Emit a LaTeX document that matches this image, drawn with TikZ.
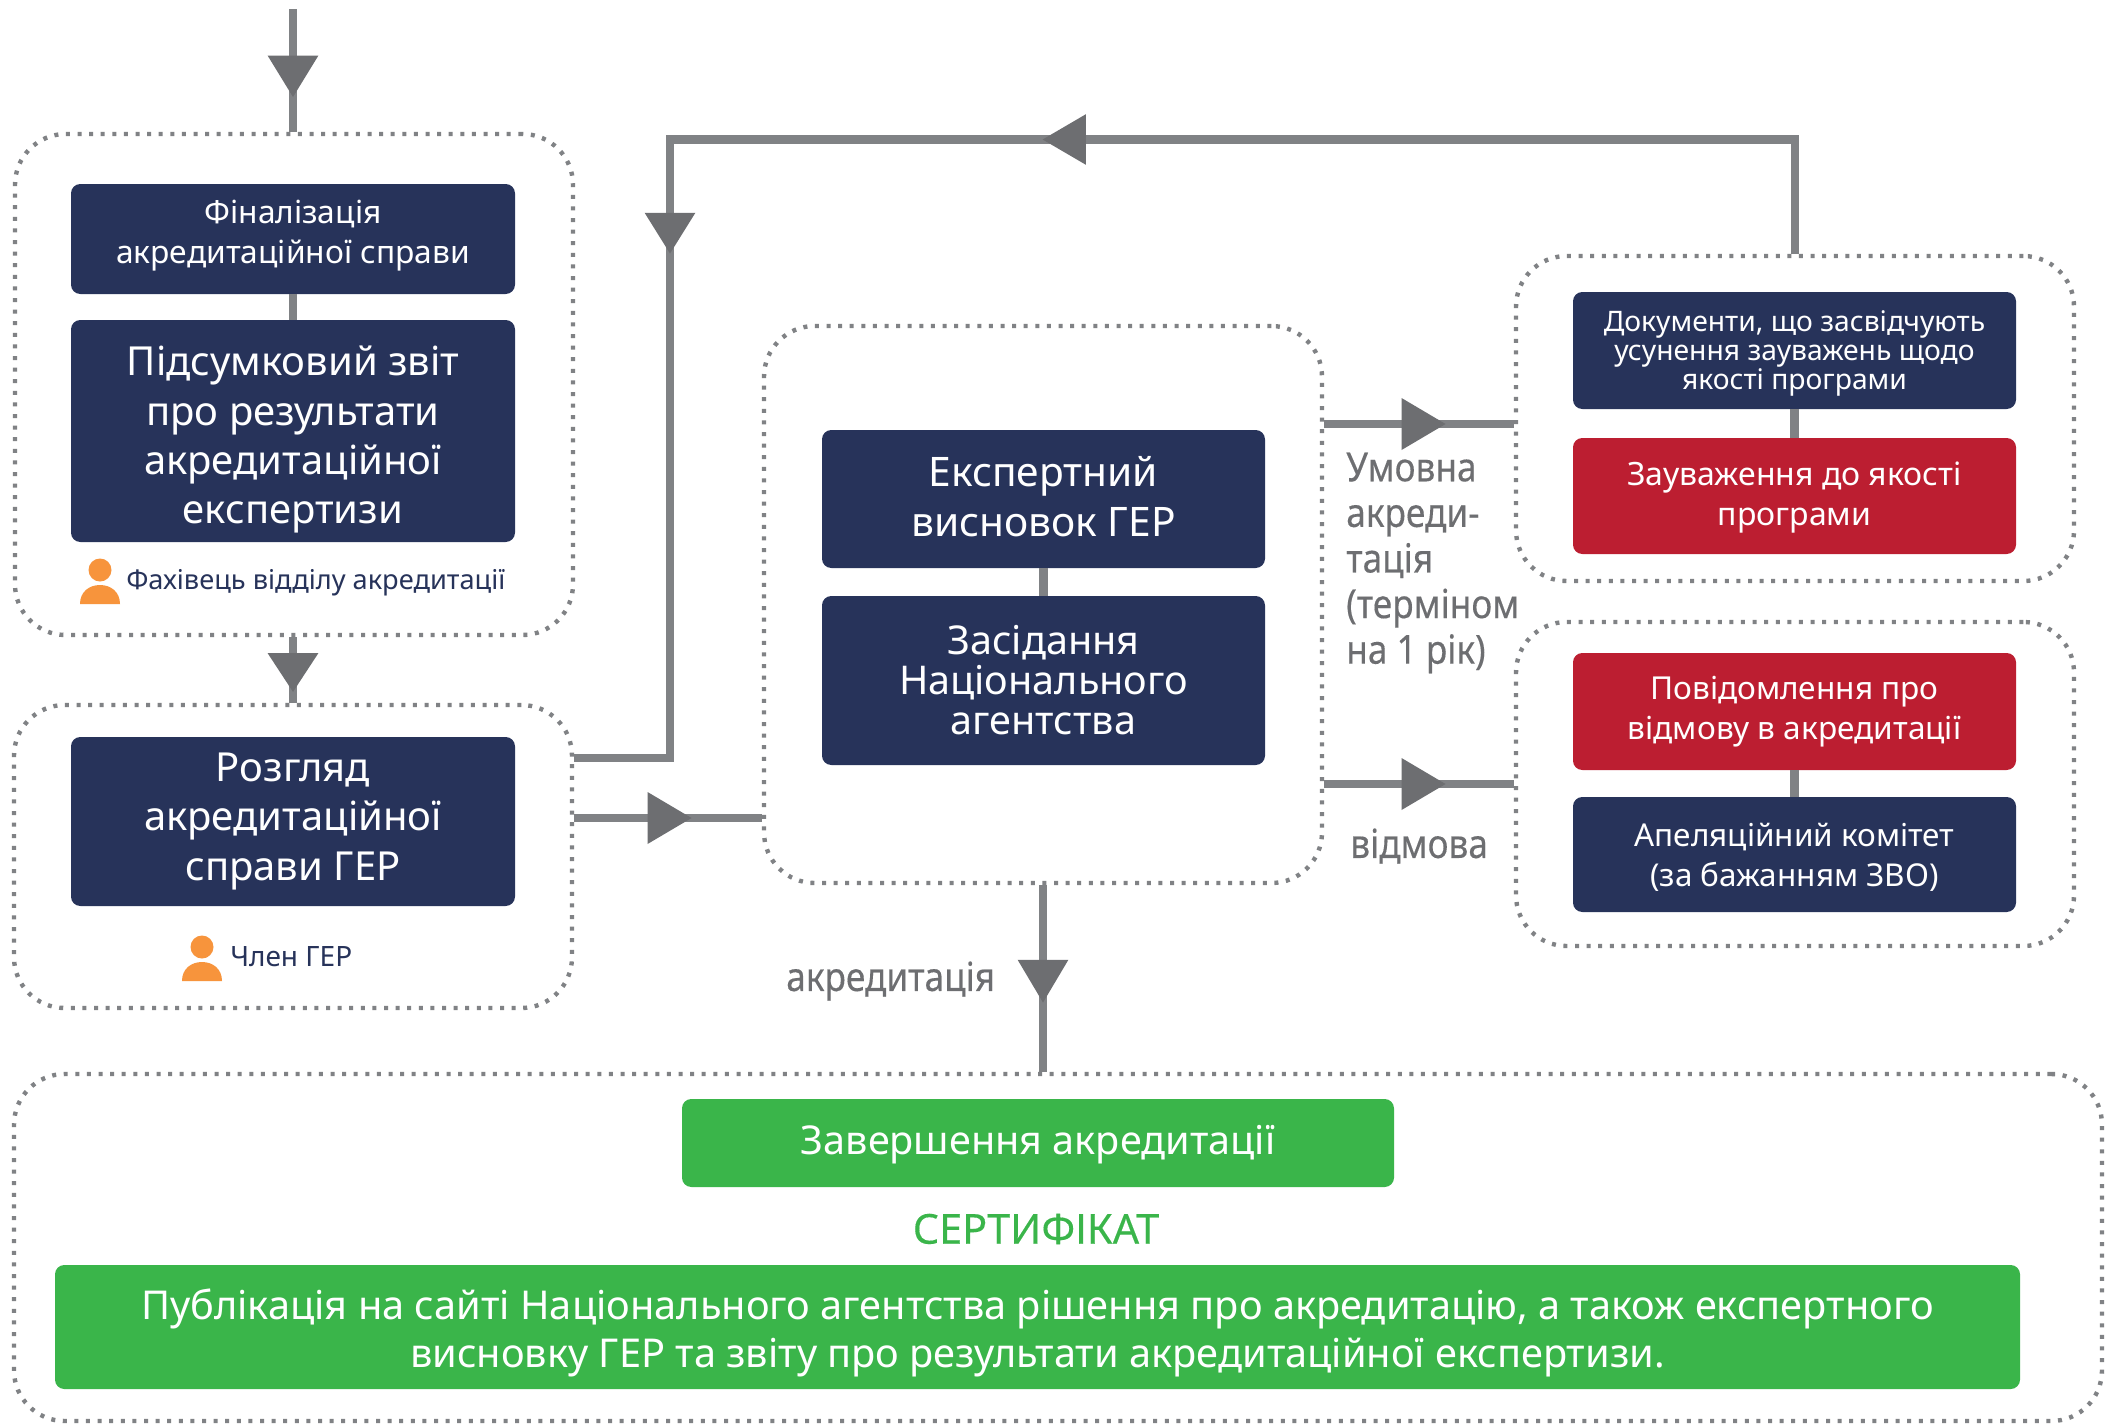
\documentclass[tikz,border=0pt]{standalone}
\usepackage{fontspec}
\usetikzlibrary{decorations.markings,calc}
\setmainfont{Noto Sans}
\newfontfamily\condfont[FakeStretch=0.88,FakeBold=0.25]{Noto Sans}
\newfontfamily\certfont[FakeBold=0.3]{Noto Sans}
\definecolor{navy}{HTML}{27335A}
\definecolor{redbox}{HTML}{BC1E31}
\definecolor{greenbox}{HTML}{3AB54A}
\definecolor{orangep}{HTML}{F7943C}
\definecolor{linegray}{HTML}{808285}
\definecolor{headgray}{HTML}{6D6E71}
\tikzset{
  x=0.75pt,y=-0.75pt,
  group/.style={draw=linegray,line width=3.3pt,dash pattern=on 3pt off 5.7pt,rounded corners=38pt,fill=white,inner sep=0pt},
  card/.style={rounded corners=7pt,inner sep=0pt,text=white,align=center},
  conn/.style={draw=linegray,line width=6.6pt},
  midhead/.style n args={3}{postaction={decorate,decoration={markings,mark=at position #1 with {\fill[headgray] (-#2,-#3)--(0pt,0pt)--(-#2,#3)--cycle;}}}},
  who/.style={text=navy,inner sep=0pt,anchor=west},
  lab/.style={text=headgray,inner sep=0pt,anchor=west,align=left},
}
\newcommand{\cornerbox}[7]{% name, style, x1,y1,x2,y2, text
  \pgfmathsetmacro{\bw}{(#5-#3)*0.75}\pgfmathsetmacro{\bh}{(#6-#4)*0.75}
  \node[#2,minimum width=\bw pt,minimum height=\bh pt] (#1) at ({(#3+#5)/2},{(#4+#6)/2}) {#7};}
\newcommand{\dn}[1]{\rule{0pt}{#1pt}}
\newcommand{\up}[1]{\rule[-#1pt]{0pt}{#1pt}}
\newcommand{\personicon}[2]{% cx, circle cy
  \fill[orangep] (#1,#2) circle[radius=11.5];
  \fill[orangep] ({#1-20},{#2+34}) .. controls ({#1-20},{#2+22}) and ({#1-11},{#2+15}) .. (#1,{#2+15})
     .. controls ({#1+11},{#2+15}) and ({#1+20},{#2+22}) .. ({#1+20},{#2+34}) -- cycle;}
\begin{document}
\begin{tikzpicture}
\useasboundingbox (0,0) rectangle (2105,1424);
\fill[white] (0,0) rectangle (2105,1424);
% groups
\cornerbox{gA}{group}{15}{134}{573}{635}{}
\cornerbox{gB}{group}{14}{705}{572}{1008}{}
\cornerbox{gC}{group}{764}{326}{1322}{883}{}
\cornerbox{gD}{group}{1516}{256}{2074}{581}{}
\cornerbox{gE}{group}{1516}{622}{2074}{946}{}
\cornerbox{gF}{group}{14}{1074}{2102}{1421}{}
% cards
\cornerbox{a1}{card,fill=navy,font=\fontsize{23.8}{30}\selectfont}{71}{184}{515}{294}{Фіналізація\\акредитаційної справи\up{10.5}}
\cornerbox{a2}{card,fill=navy,font=\fontsize{30}{36.8}\selectfont}{71}{320}{515}{542}{\dn{35}Підсумковий звіт\\про результати\\акредитаційної\\експертизи}
\cornerbox{b1}{card,fill=navy,font=\fontsize{30}{37.2}\selectfont}{71}{737}{515}{906}{Розгляд\\акредитаційної\\справи ГЕР}
\cornerbox{c1}{card,fill=navy,font=\fontsize{30.5}{37}\selectfont}{822}{430}{1265}{568}{Експертний\\висновок ГЕР\up{4}}
\cornerbox{c2}{card,fill=navy,font=\fontsize{29.7}{30}\selectfont}{822}{596}{1265}{765}{Засідання\\Національного\\агентства}
\cornerbox{d1}{card,fill=navy,font=\fontsize{21.2}{21.8}\selectfont}{1573}{292}{2016}{409}{\dn{20}Документи, що засвідчують\\усунення зауважень щодо\\якості програми}
\cornerbox{d2}{card,fill=redbox,font=\fontsize{24}{30}\selectfont}{1573}{438}{2016}{554}{\dn{20}Зауваження до якості\\програми}
\cornerbox{e1}{card,fill=redbox,font=\fontsize{23.7}{30}\selectfont}{1573}{653}{2016}{770}{Повідомлення про\\відмову в акредитації}
\cornerbox{e2}{card,fill=navy,font=\fontsize{23.6}{30}\selectfont}{1573}{797}{2016}{912}{\dn{21}Апеляційний комітет\\(за бажанням ЗВО)}
\cornerbox{f1}{card,fill=greenbox,font=\fontsize{29.7}{32}\selectfont}{682}{1099}{1394}{1187}{\dn{25}Завершення акредитації}
\cornerbox{f2}{card,fill=greenbox,font=\fontsize{29.8}{36}\selectfont}{55}{1265}{2020}{1389}{\dn{32}Публікація на сайті Національного агентства рішення про акредитацію, а також експертного\\висновку ГЕР та звіту про результати акредитаційної експертизи.}
% texts
\node[text=greenbox,inner sep=0pt,font=\fontsize{31}{32}\certfont] (cert) at (1036,1229) {СЕРТИФІКАТ};
\personicon{100}{570}
\node[who,font=\fontsize{20.4}{24}\selectfont] (whoA) at (126,583) {Фахівець відділу акредитації};
\personicon{202}{947}
\node[who,font=\fontsize{21}{24}\selectfont] (whoB) at (230,957) {Член ГЕР};
\node[lab,font=\fontsize{30}{34.2}\condfont] (lC) at (1346,563) {Умовна\\акреди-\\тація\\(терміном\\на 1 рік)};
\node[lab,font=\fontsize{30}{34}\condfont] (lR) at (1350,846) {відмова};
\node[lab,font=\fontsize{30}{34}\condfont] (lA) at (786,981) {акредитація};
% connectors
\coordinate (start) at (293,9);
\coordinate (bendT) at (670,139.5);
\coordinate (bendB) at (670,758);
\draw[conn,midhead={66pt}{31pt}{19pt}] (start) -- (start |- gA.north);
\draw[conn,midhead={41pt}{29pt}{19pt}] (a1 |- gA.south) -- (a1 |- gB.north);
\draw[conn] (a1) -- (a1 |- a2.north);
\draw[conn] (c1.south) -- (c1 |- c2.north);
\draw[conn] (d1.south) -- (d2.north);
\draw[conn] (e1.south) -- (e2.north);
\draw[conn,midhead={650pt}{32.5pt}{19pt},midhead={1015pt}{30.5pt}{19pt}] (gD.north) |- (bendT) -- (bendB) -- (gB.east |- bendB);
\draw[conn,midhead={88pt}{33pt}{19.5pt}] (gB.east |- 0,818) -- (gC.west |- 0,818);
\draw[conn,midhead={91pt}{33pt}{19.5pt}] (gC.east |- 0,424) -- (gD.west |- 0,424);
\draw[conn,midhead={91pt}{33pt}{19.5pt}] (gC.east |- 0,784) -- (gE.west |- 0,784);
\draw[conn,midhead={88pt}{32pt}{19pt}] (gC.south) -- (gC.south |- gF.north);
\end{tikzpicture}
\end{document}
